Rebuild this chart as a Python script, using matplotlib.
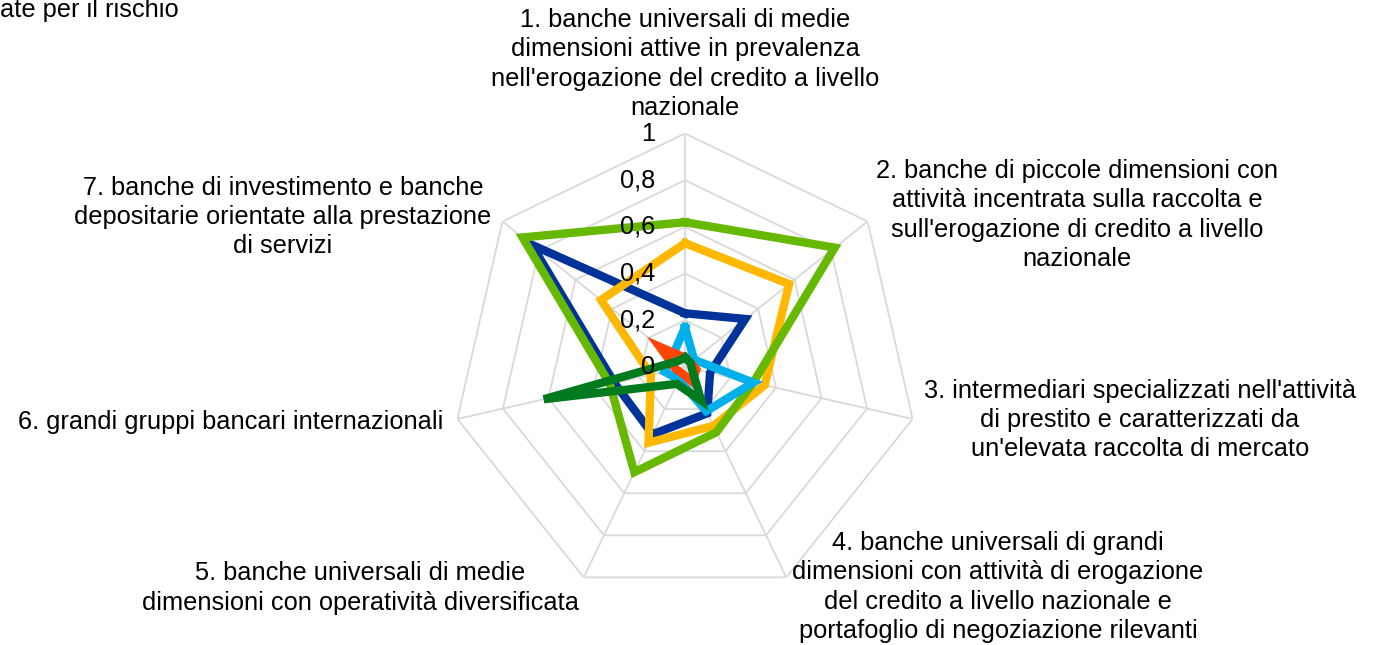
import matplotlib
matplotlib.use("Agg")
import matplotlib.pyplot as plt
import matplotlib.transforms as mtransforms
import numpy as np

plt.rcParams["font.family"] = ["Liberation Sans", "DejaVu Sans"]

# categorie (assi del radar)
categories = [
    "1. banche universali di medie\ndimensioni attive in prevalenza\nnell'erogazione del credito a livello\nnazionale",
    "2. banche di piccole dimensioni con\nattività incentrata sulla raccolta e\nsull'erogazione di credito a livello\nnazionale",
    "3. intermediari specializzati nell'attività\ndi prestito e caratterizzati da\nun'elevata raccolta di mercato",
    "4. banche universali di grandi\ndimensioni con attività di erogazione\ndel credito a livello nazionale e\nportafoglio di negoziazione rilevanti",
    "5. banche universali di medie\ndimensioni con operatività diversificata",
    "6. grandi gruppi bancari internazionali",
    "7. banche di investimento e banche\ndepositarie orientate alla prestazione\ndi servizi",
]

# valori delle serie
serie_blu = [0.23, 0.33, 0.11, 0.22, 0.32, 0.31, 0.84]
serie_arancio = [0.53, 0.57, 0.35, 0.28, 0.36, 0.15, 0.46]
serie_verde = [0.62, 0.82, 0.30, 0.31, 0.50, 0.33, 0.89]
serie_azzurro = [0.17, 0.05, 0.30, 0.21, 0.06, 0.09, 0.07]
serie_rosso = [0.04, 0.03, 0.05, 0.07, 0.03, 0.04, 0.14]
serie_verde_scuro = [0.04, 0.03, 0.03, 0.16, 0.08, 0.62, 0.04]

tick_values = [0, 0.2, 0.4, 0.6, 0.8, 1]
tick_labels = ["0", "0,2", "0,4", "0,6", "0,8", "1"]

W, H = 1373, 645
fig = plt.figure(figsize=(W / 100, H / 100), dpi=100)

# centro (685, 367) px, raggio 233.5 px
cx, cy, R = 685, 367, 233.5
ax = fig.add_axes([(cx - R) / W, (H - cy - R) / H, 2 * R / W, 2 * R / H], projection="polar")
ax.set_theta_zero_location("N")
ax.set_theta_direction(-1)
ax.set_ylim(0, 1)
ax.grid(False)
ax.spines["polar"].set_visible(False)
ax.set_xticks([])
ax.set_yticks([])
ax.patch.set_alpha(0)

n = len(categories)
angles = np.arange(n) * 2 * np.pi / n
closed = np.append(angles, angles[0])

# griglia poligonale
for v in tick_values[1:]:
    ax.plot(closed, [v] * (n + 1), color="#d9d9d9", lw=1.3, zorder=1)
for a in angles:
    ax.plot([a, a], [0, 1], color="#d9d9d9", lw=1.3, zorder=1)

series = [
    (serie_blu, "#003399"),
    (serie_arancio, "#ffb800"),
    (serie_verde, "#66b800"),
    (serie_azzurro, "#00b0ea"),
    (serie_rosso, "#ff4500"),
    (serie_verde_scuro, "#007a1e"),
]
for vals, col in series:
    ax.plot(closed, vals + vals[:1], color=col, lw=6, solid_joinstyle="miter", zorder=3)

fs = 18.3

# etichette dei valori sull'asse verticale
off = mtransforms.offset_copy(ax.transData, fig=fig, x=-30, y=0, units="dots")
for v, lab in zip(tick_values, tick_labels):
    ax.text(0, v, lab, transform=off, ha="right", va="center", fontsize=fs, zorder=4)

# posizioni delle etichette delle categorie (pixel)
label_pos = [(685, 64), (1077, 215), (1140, 420), (998, 587), (360, 588), (231, 422), (283, 217)]
for lab, (x, y) in zip(categories, label_pos):
    fig.text(x / W, 1 - y / H, lab, ha="center", va="center", multialignment="center",
             fontsize=fs, linespacing=1.27)

fig.text(0, 1 - 10 / H, "ate per il rischio", ha="left", va="center", fontsize=fs)

fig.savefig("out.png", dpi=100)
